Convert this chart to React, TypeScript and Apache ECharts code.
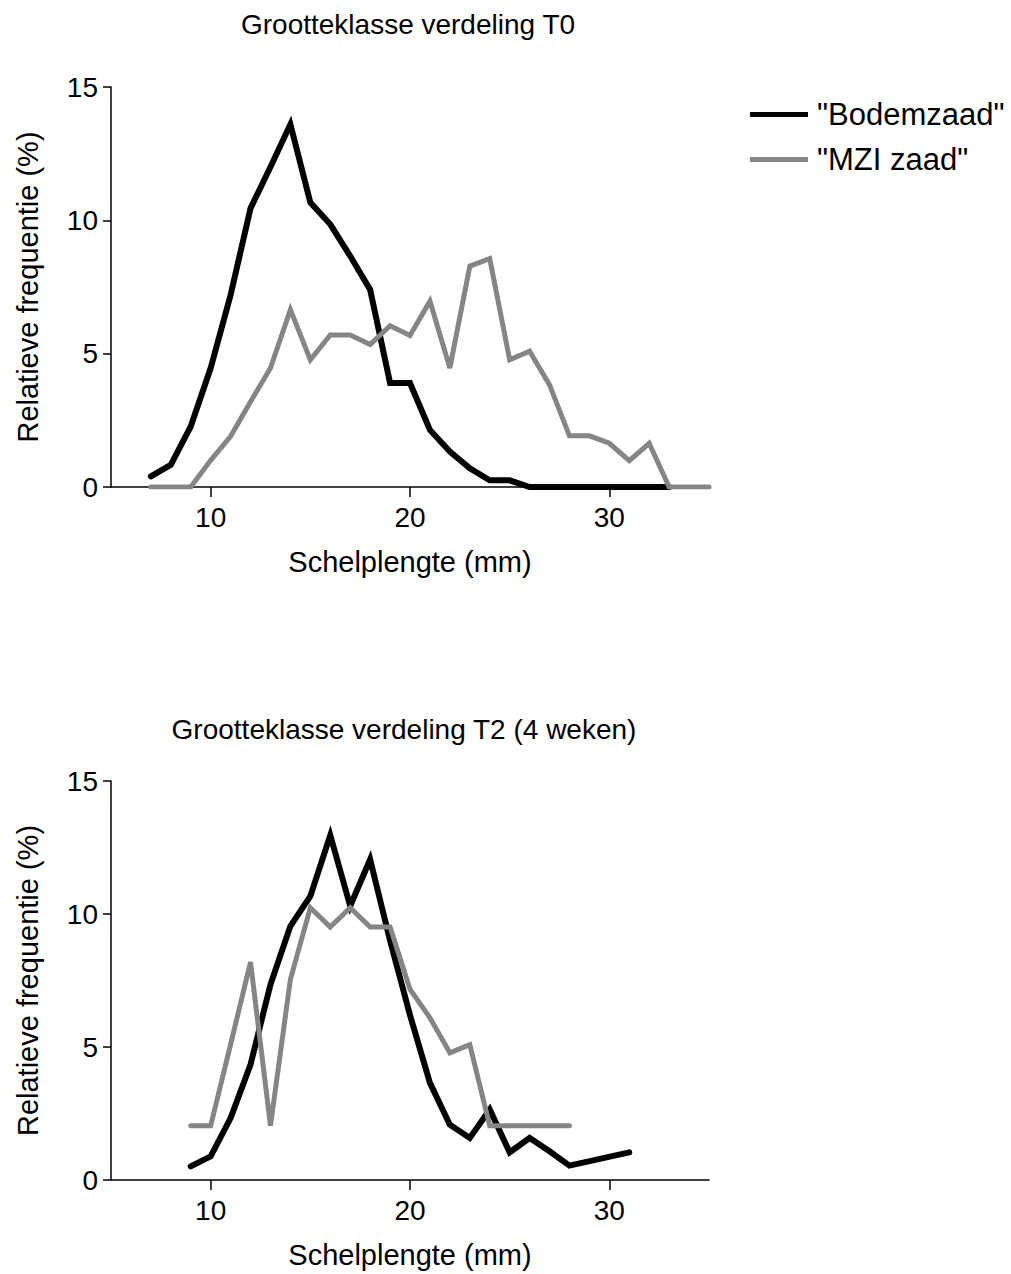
import React, { useEffect, useRef } from "react";
import * as echarts from "echarts";

const FONT = "'Liberation Sans', Arial, Helvetica, sans-serif";

const titles = ["Grootteklasse verdeling T0", "Grootteklasse verdeling T2 (4 weken)"];
const seriesNames = ['"Bodemzaad"', '"MZI zaad"'];
const xAxisName = "Schelplengte (mm)";
const yAxisName = "Relatieve frequentie (%)";
const xTicks = [10, 20, 30];
const colors = ["#000000", "#858585"];

// T0
const bodemT0X = [7, 8, 9, 10, 11, 12, 13, 14, 15, 16, 17, 18, 19, 20, 21, 22, 23, 24, 25, 26, 27, 28, 29, 30, 31, 32, 33];
const bodemT0Y = [0.4, 0.83, 2.27, 4.46, 7.2, 10.45, 12.0, 13.6, 10.67, 9.85, 8.66, 7.4, 3.9, 3.9, 2.14, 1.33, 0.7, 0.25, 0.25, 0, 0, 0, 0, 0, 0, 0, 0];
const mziT0X = [7, 8, 9, 10, 11, 12, 13, 14, 15, 16, 17, 18, 19, 20, 21, 22, 23, 24, 25, 26, 27, 28, 29, 30, 31, 32, 33, 34, 35];
const mziT0Y = [0, 0, 0, 1.0, 1.9, 3.2, 4.46, 6.65, 4.77, 5.7, 5.7, 5.34, 6.05, 5.68, 6.97, 4.46, 8.28, 8.56, 4.77, 5.09, 3.83, 1.92, 1.92, 1.64, 0.99, 1.64, 0, 0, 0];

// T2
const bodemT2X = [9, 10, 11, 12, 13, 14, 15, 16, 17, 18, 19, 20, 21, 22, 23, 24, 25, 26, 27, 28, 31];
const bodemT2Y = [0.51, 0.89, 2.33, 4.34, 7.35, 9.55, 10.67, 12.96, 10.3, 12.05, 9.0, 6.2, 3.65, 2.08, 1.58, 2.65, 1.04, 1.58, 1.08, 0.54, 1.04];
const mziT2X = [9, 10, 11, 12, 13, 14, 15, 16, 17, 18, 19, 20, 21, 22, 23, 24, 25, 26, 27, 28];
const mziT2Y = [2.04, 2.04, 5.1, 8.19, 2.04, 7.54, 10.24, 9.51, 10.24, 9.51, 9.51, 7.17, 6.1, 4.78, 5.09, 2.04, 2.04, 2.04, 2.04, 2.04];

const pairs = (xs: number[], ys: number[]) => xs.map((x, i) => [x, ys[i]]);

export default function App() {
  const ref = useRef<HTMLDivElement>(null);
  useEffect(() => {
    if (!ref.current) return;
    const chart = echarts.init(ref.current, null, { renderer: "svg" });
    const axisLineStyle = { color: "#000", width: 1.5 };
    const mkX = (gi: number) => ({
      type: "value",
      gridIndex: gi,
      min: 5,
      max: 35,
      axisLine: { show: true, lineStyle: axisLineStyle },
      axisTick: { show: true, length: 10, customValues: xTicks, lineStyle: axisLineStyle },
      axisLabel: { customValues: xTicks, fontSize: 28, color: "#000", fontFamily: FONT, margin: 16 },
      splitLine: { show: false },
      name: xAxisName,
      nameLocation: "middle",
      nameGap: 60,
      nameTextStyle: { fontSize: 29, color: "#000", fontFamily: FONT },
    });
    const mkY = (gi: number) => ({
      type: "value",
      gridIndex: gi,
      min: 0,
      max: 15,
      interval: 5,
      axisLine: { show: true, lineStyle: axisLineStyle },
      axisTick: { show: true, length: 8, lineStyle: axisLineStyle },
      axisLabel: { fontSize: 28, color: "#000", fontFamily: FONT, margin: 13 },
      splitLine: { show: false },
      name: yAxisName,
      nameLocation: "middle",
      nameGap: 69,
      nameTextStyle: { fontSize: 29, color: "#000", fontFamily: FONT },
    });
    const mkSeries = (name: string, color: string, gi: number, data: number[][], width: number) => ({
      type: "line",
      name,
      xAxisIndex: gi,
      yAxisIndex: gi,
      data,
      symbol: "none",
      showSymbol: false,
      color,
      lineStyle: { width, color, cap: "round", join: "miter" },
      silent: true,
    });
    chart.setOption({
      animation: false,
      backgroundColor: "#fff",
      graphic: [
        {
          type: "text",
          x: 408,
          y: 10,
          style: { text: titles[0], fontSize: 28, fontFamily: FONT, fill: "#000", textAlign: "center" },
        },
        {
          type: "text",
          x: 404,
          y: 715,
          style: { text: titles[1], fontSize: 28, fontFamily: FONT, fill: "#000", textAlign: "center" },
        },
      ],
      legend: {
        orient: "vertical",
        left: 750,
        top: 99,
        icon: "rect",
        itemWidth: 58,
        itemHeight: 5,
        itemGap: 14,
        padding: 0,
        data: seriesNames,
        textStyle: { fontSize: 31, color: "#000", fontFamily: FONT, padding: [0, 0, 0, 4] },
      },
      grid: [
        { left: 111, top: 87, width: 598, height: 400 },
        { left: 111, top: 781, width: 598, height: 399 },
      ],
      xAxis: [mkX(0), mkX(1)],
      yAxis: [mkY(0), mkY(1)],
      series: [
        mkSeries(seriesNames[0], colors[0], 0, pairs(bodemT0X, bodemT0Y), 6),
        mkSeries(seriesNames[1], colors[1], 0, pairs(mziT0X, mziT0Y), 5),
        mkSeries(seriesNames[0], colors[0], 1, pairs(bodemT2X, bodemT2Y), 6),
        mkSeries(seriesNames[1], colors[1], 1, pairs(mziT2X, mziT2Y), 5),
      ],
    });
    return () => chart.dispose();
  }, []);
  return (
    <div
      ref={ref}
      style={{ position: "absolute", left: 0, top: 0, width: 1011, height: 1274 }}
    />
  );
}
